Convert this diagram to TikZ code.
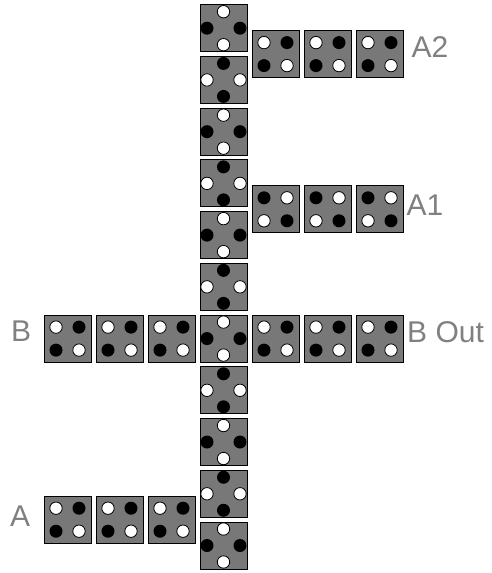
\documentclass[tikz,border=0pt]{standalone}
\usepackage{fontspec}
\setmainfont{Liberation Sans}
\definecolor{tilegray}{RGB}{120,120,120}
\definecolor{labelgray}{RGB}{128,128,128}
\tikzset{
tile/.style={draw=black,fill=tilegray,line width=1pt},
wdot/.style={draw=black,fill=white,line width=0.8pt},
bdot/.style={fill=black},
lbl/.style={text=labelgray,font=\fontsize{30}{35}\selectfont,inner sep=0pt,anchor=base west},
crossw/.pic={
\draw[tile] (-23.5,-23.5) rectangle (23.5,23.5);
\draw[wdot] (0,-16.5) circle (6.2);
\draw[wdot] (0,16.5) circle (6.2);
\fill[bdot] (-16.5,0) circle (6.5);
\fill[bdot] (16.5,0) circle (6.5);
},
crossb/.pic={
\draw[tile] (-23.5,-23.5) rectangle (23.5,23.5);
\fill[bdot] (0,-16.5) circle (6.5);
\fill[bdot] (0,16.5) circle (6.5);
\draw[wdot] (-16.5,0) circle (6.2);
\draw[wdot] (16.5,0) circle (6.2);
},
quadw/.pic={
\draw[tile] (-23.5,-23.5) rectangle (23.5,23.5);
\draw[wdot] (-11.5,-11.5) circle (6.2);
\fill[bdot] (11.5,-11.5) circle (6.5);
\fill[bdot] (-11.5,11.5) circle (6.5);
\draw[wdot] (11.5,11.5) circle (6.2);
},
quadb/.pic={
\draw[tile] (-23.5,-23.5) rectangle (23.5,23.5);
\fill[bdot] (-11.5,-11.5) circle (6.5);
\draw[wdot] (11.5,-11.5) circle (6.2);
\draw[wdot] (-11.5,11.5) circle (6.2);
\fill[bdot] (11.5,11.5) circle (6.5);
}
}
\begin{document}
\begin{tikzpicture}[x=1pt,y=-1pt]
\useasboundingbox (0,0) rectangle (491,573);
% vertical column
\foreach \i in {0,2,...,10}
  \pic at (223.5,{28.2+51.73*\i}) {crossw};
\foreach \i in {1,3,...,9}
  \pic at (223.5,{28.2+51.73*\i}) {crossb};
% rows to the right
\foreach \x in {275.5,327.5,379.5}{
  \pic at (\x,54.1) {quadw};
  \pic at (\x,209.3) {quadb};
  \pic at (\x,338.6) {quadw};
}
% rows to the left
\foreach \x in {67.5,119.5,171.5}{
  \pic at (\x,338.6) {quadw};
  \pic at (\x,519.7) {quadw};
}
\node[lbl] (a2) at (411.5,57) {A2};
\node[lbl] (a1) at (406.5,215) {A1};
\node[lbl] (bout) at (407,342) {B Out};
\node[lbl] (b) at (11,341) {B};
\node[lbl] (a) at (10,526) {A};
\end{tikzpicture}
\end{document}
